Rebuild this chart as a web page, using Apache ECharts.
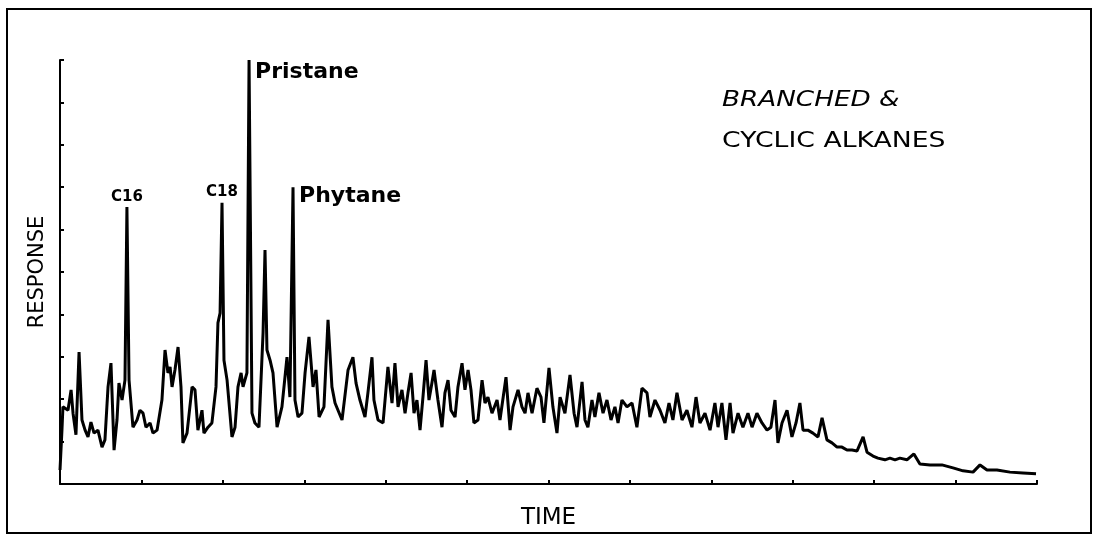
<!DOCTYPE html>
<html>
<head>
<meta charset="utf-8">
<title>Branched & Cyclic Alkanes</title>
<script src="https://cdn.jsdelivr.net/npm/echarts@6/dist/echarts.min.js"></script>
<style>
  html, body { margin: 0; padding: 0; background: #fff; }
  #chart { width: 1099px; height: 537px; }
</style>
</head>
<body>
<div id="chart"></div>
<script>
// retention time (0..60) and detector response (0..100, % of full scale)
var times = [
  0, 0.12, 0.18, 0.49, 0.68, 0.80, 0.98, 1.17, 1.35, 1.54, 1.72, 1.90, 2.09, 2.33, 2.58, 2.76,
  2.95, 3.13, 3.32, 3.50, 3.62, 3.81, 3.99, 4.11, 4.24, 4.48, 4.73, 4.91, 5.10, 5.28, 5.53, 5.71,
  5.96, 6.26, 6.45, 6.63, 6.76, 6.88, 7.06, 7.25, 7.43, 7.55, 7.80, 8.11, 8.29, 8.47, 8.72, 8.84,
  9.09, 9.33, 9.58, 9.70, 9.83, 9.95, 10.07, 10.26, 10.56, 10.75, 10.93, 11.12, 11.24, 11.48, 11.61, 11.79,
  11.97, 12.22, 12.47, 12.59, 12.71, 12.90, 13.08, 13.33, 13.63, 13.94, 14.12, 14.31, 14.43, 14.62, 14.86, 15.05,
  15.29, 15.54, 15.72, 15.91, 16.21, 16.46, 16.70, 16.89, 17.32, 17.69, 17.99, 18.18, 18.42, 18.73, 18.91, 19.16,
  19.28, 19.53, 19.84, 20.14, 20.39, 20.57, 20.76, 21.00, 21.19, 21.37, 21.56, 21.74, 21.92, 22.11, 22.29, 22.48,
  22.66, 22.84, 22.97, 23.21, 23.46, 23.64, 23.83, 24.01, 24.26, 24.44, 24.69, 24.87, 25.06, 25.24, 25.42, 25.67,
  25.92, 26.10, 26.28, 26.53, 26.84, 27.02, 27.39, 27.64, 27.82, 28.13, 28.37, 28.56, 28.74, 28.99, 29.29, 29.54,
  29.72, 30.03, 30.27, 30.52, 30.71, 31.01, 31.32, 31.57, 31.75, 32.06, 32.24, 32.42, 32.67, 32.85, 33.10, 33.35,
  33.59, 33.84, 34.08, 34.27, 34.51, 34.82, 35.13, 35.43, 35.74, 36.05, 36.23, 36.54, 36.85, 37.15, 37.40, 37.64,
  37.89, 38.20, 38.50, 38.81, 39.06, 39.30, 39.61, 39.92, 40.22, 40.41, 40.65, 40.90, 41.15, 41.33, 41.64, 41.94,
  42.25, 42.50, 42.80, 43.11, 43.42, 43.66, 43.91, 44.09, 44.34, 44.65, 44.95, 45.20, 45.44, 45.63, 45.93, 46.24,
  46.55, 46.80, 47.10, 47.41, 47.72, 48.02, 48.33, 48.64, 48.95, 49.32, 49.56, 49.93, 50.23, 50.66, 50.97, 51.28,
  51.58, 52.01, 52.44, 52.81, 53.43, 54.16, 54.84, 55.46, 56.07, 56.50, 56.93, 57.54, 58.34, 59.14, 59.94
];
var response = [
  3.3, 12.7, 18.2, 17.4, 22.2, 16.7, 11.6, 31.1, 15.1, 12.7, 11.1, 14.6, 12.0, 12.7, 8.7, 10.4,
  22.9, 28.5, 8.0, 15.1, 23.8, 19.8, 24.5, 65.3, 24.5, 13.4, 15.1, 17.4, 16.7, 13.4, 14.4, 12.0,
  12.7, 19.8, 31.6, 26.2, 27.6, 22.9, 26.9, 32.3, 22.9, 9.7, 12.0, 22.9, 22.2, 12.7, 17.4, 12.0,
  13.4, 14.4, 22.9, 38.0, 40.3, 66.3, 29.2, 24.5, 11.1, 13.4, 22.9, 26.2, 22.9, 26.2, 100, 16.7,
  14.4, 13.4, 35.6, 55.2, 31.6, 29.2, 26.2, 13.4, 18.2, 29.9, 20.5, 70.0, 19.8, 15.8, 16.7, 26.2,
  34.7, 22.9, 26.9, 15.8, 18.2, 38.7, 22.9, 19.1, 15.1, 26.9, 29.9, 23.8, 19.8, 15.8, 21.5, 29.9,
  19.8, 15.1, 14.4, 27.6, 19.1, 28.5, 18.2, 22.2, 16.7, 21.5, 26.2, 16.7, 19.8, 12.7, 20.5, 29.2,
  19.8, 23.8, 26.9, 19.8, 13.4, 21.5, 24.5, 17.4, 15.8, 22.9, 28.5, 22.2, 26.9, 22.2, 14.4, 15.1,
  24.5, 19.1, 20.5, 16.7, 19.8, 15.1, 25.2, 12.7, 18.2, 22.2, 18.2, 16.7, 21.5, 16.7, 22.6, 20.5,
  14.4, 27.4, 18.2, 12.0, 20.5, 16.7, 25.7, 16.7, 13.4, 24.1, 15.1, 13.4, 19.8, 15.8, 21.5, 16.7,
  19.8, 15.1, 18.2, 14.4, 19.8, 18.2, 19.1, 13.4, 22.6, 21.5, 15.8, 19.8, 17.4, 14.4, 19.1, 15.1,
  21.5, 15.1, 17.4, 13.4, 20.5, 14.4, 16.7, 12.7, 19.1, 13.4, 19.1, 10.4, 19.1, 12.0, 16.7, 13.4,
  16.7, 13.4, 16.7, 14.4, 12.7, 13.4, 19.8, 9.7, 14.4, 17.4, 11.1, 14.4, 19.1, 12.7, 12.7, 12.0,
  11.1, 15.6, 10.4, 9.7, 8.7, 8.7, 8.0, 8.0, 7.8, 11.1, 7.5, 6.6, 6.1, 5.7, 6.1, 5.7,
  6.1, 5.7, 7.1, 4.7, 4.5, 4.5, 3.8, 3.1, 2.8, 4.5, 3.3, 3.3, 2.8, 2.6, 2.4
];

// labelled peaks
var peakNames = ['C16', 'C18', 'Pristane', 'Phytane'];
var peakTimes = [4.11, 9.95, 11.61, 14.31];
var peakResp = [65.3, 66.3, 100, 70.0];

var chartData = [];
for (var i = 0; i < times.length; i++) {
  chartData.push([times[i], response[i]]);
}

var peakMarks = [];
for (var j = 0; j < peakNames.length; j++) {
  var small = peakNames[j].charAt(0) === 'C';
  peakMarks.push({
    name: peakNames[j],
    coord: [peakTimes[j], peakResp[j]],
    label: small ? {
      position: 'top', distance: 3, fontSize: 15, fontWeight: 'bold'
    } : {
      position: 'right', distance: 6, offset: [0, peakNames[j] === 'Pristane' ? 12 : 9],
      fontSize: 22, fontWeight: 'bold'
    }
  });
}

var myChart = echarts.init(document.getElementById('chart'));

var font = 'DejaVu Sans';

var option = {
  animation: false,
  backgroundColor: '#fff',
  textStyle: { fontFamily: font, color: '#000' },
  grid: { left: 60, top: 60, right: 62, bottom: 53 },
  xAxis: {
    type: 'value',
    min: 0,
    max: 60,
    interval: 5,
    name: 'TIME',
    nameLocation: 'middle',
    nameGap: 23,
    nameTextStyle: { fontFamily: font, fontSize: 23, color: '#000' },
    axisLine: { lineStyle: { color: '#000', width: 2 } },
    axisTick: { inside: true, length: 4, lineStyle: { color: '#000', width: 2 } },
    axisLabel: { show: false },
    splitLine: { show: false }
  },
  yAxis: {
    type: 'value',
    min: 0,
    max: 100,
    interval: 10,
    name: 'RESPONSE',
    nameLocation: 'middle',
    nameRotate: 90,
    nameGap: 12,
    nameTextStyle: { fontFamily: font, fontSize: 21, color: '#000' },
    axisLine: { lineStyle: { color: '#000', width: 2 } },
    axisTick: { inside: true, length: 4, lineStyle: { color: '#000', width: 2 } },
    axisLabel: { show: false },
    splitLine: { show: false }
  },
  graphic: [
    {
      type: 'rect',
      shape: { x: 7, y: 9, width: 1084, height: 524 },
      style: { fill: null, stroke: '#000', lineWidth: 2 }
    },
    {
      type: 'text',
      x: 722,
      y: 90,
      scaleX: 1.25,
      style: { text: 'BRANCHED &', font: 'italic 21px "DejaVu Sans"', fill: '#000' }
    },
    {
      type: 'text',
      x: 722,
      y: 131,
      scaleX: 1.27,
      style: { text: 'CYCLIC ALKANES', font: '21px "DejaVu Sans"', fill: '#000' }
    }
  ],
  series: [
    {
      type: 'line',
      data: chartData,
      showSymbol: false,
      lineStyle: { color: '#000', width: 3 },
      markPoint: {
        symbol: 'circle',
        symbolSize: 0,
        label: { show: true, formatter: '{b}', color: '#000', fontFamily: font },
        data: peakMarks
      }
    }
  ]
};

myChart.setOption(option);
</script>
</body>
</html>
